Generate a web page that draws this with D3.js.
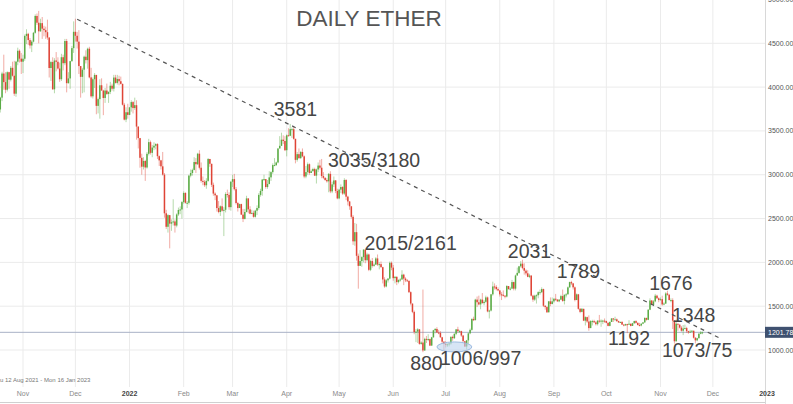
<!DOCTYPE html>
<html><head><meta charset="utf-8">
<script src="https://cdn.jsdelivr.net/npm/d3@7"></script>
<style>html,body{margin:0;padding:0;background:#fff;overflow:hidden}</style>
</head><body><svg id="c" width="793" height="404"></svg>
<script>
// ---- data (daily ETH candles, 19 Oct 2021 .. 25 Nov 2022) ----
const startDate = "2021-10-19";
const firstOpen = 3745;
const closes = [
3880,4155,4057,3970,4170,4085,4220,4130,3925,4290,4415,4325,4290,
4324,4584,4608,4537,4475,4519,4620,4812,4735,4637,4730,4667,4650,4627,4566,4218,4286,3975,4304,4289,4212,4090,4341,4273,4526,4045,4099,4296,4445,4631,
4586,4519,4240,4117,4199,4347,4308,4438,4111,3895,4090,4139,3786,3863,4021,3961,3876,3961,3922,3946,4016,3982,4109,4048,4093,4067,4037,3799,3629,3713,3683,
3769,3829,3761,3794,3550,3418,3193,3092,3157,3083,3239,3372,3250,3310,3331,3350,3212,3164,3096,3001,2560,2406,2539,2442,2458,2467,2420,2547,2598,2604,2688,
2792,2680,2680,2990,3020,3055,3145,3120,3240,3080,2930,2920,2880,2930,3180,3125,2885,2785,2765,2620,2575,2640,2590,2600,2780,2770,2630,2920,
2950,2835,2677,2620,2665,2545,2496,2575,2730,2605,2555,2565,2520,2590,2620,2770,2815,2945,2950,2860,2895,2970,3030,3110,3110,3140,3300,3330,3400,3385,3280,
3450,3445,3520,3520,3410,3170,3235,3190,3260,3210,2980,3030,3120,3020,3040,3065,2990,3060,3105,3080,2985,2965,2940,2925,3010,2810,2890,2935,2815,2730,
2830,2860,2785,2940,2750,2695,2640,2520,2240,2345,2075,1960,2015,2060,2145,2025,2090,1915,2015,1960,1975,2045,1975,1980,1945,1805,1725,1795,1815,1995,1940,
1820,1835,1775,1800,1805,1860,1815,1795,1790,1660,1530,1435,1205,1210,1235,1070,1085,995,1127,1125,1125,1050,1145,1225,1240,1200,1195,1145,1095,1070,
1060,1065,1075,1150,1135,1185,1235,1215,1215,1165,1100,1040,1110,1190,1230,1355,1340,1575,1545,1520,1575,1535,1550,1600,1440,1450,1635,1725,1720,1695,1680,
1635,1630,1620,1610,1730,1695,1700,1775,1700,1850,1880,1955,1985,1935,1905,1875,1835,1850,1620,1575,1620,1625,1660,1660,1695,1505,1490,1430,1555,1525,1555,
1585,1575,1555,1575,1615,1560,1630,1635,1715,1775,1760,1715,1570,1635,1470,1435,1470,1335,1375,1325,1250,1330,1330,1315,1295,1335,1330,1335,1335,1330,
1310,1275,1320,1360,1350,1350,1330,1315,1320,1290,1280,1295,1290,1300,1275,1305,1330,1310,1285,1280,1300,1315,1365,1345,1460,1565,1515,1555,1620,1590,1570,
1580,1520,1530,1645,1630,1570,1570,1335,1100,1300,1290,1255,1220,1245,1250,1215,1200,1210,1220,1140,1110,1135,1185,1200,1202];
const highs = [
3890,4175,4370,4170,4180,4175,4240,4290,4300,4300,4450,4430,4390,
4370,4600,4660,4620,4560,4535,4630,4830,4840,4870,4780,4800,4700,4690,4770,4570,4300,4340,4330,4400,4340,4280,4380,4370,4550,4550,4170,4300,4470,4750,
4780,4630,4650,4240,4220,4360,4420,4450,4460,4220,4110,4160,4140,3880,4090,4100,3970,3990,4040,3950,4060,4040,4140,4140,4140,4130,4120,4040,3820,3770,3810,
3770,3850,3840,3880,3850,3550,3420,3240,3200,3170,3260,3410,3390,3340,3370,3360,3360,3220,3170,3260,3020,2600,2550,2530,2490,2720,2490,2560,2625,2640,2700,
2810,2800,2700,3000,3060,3070,3200,3190,3250,3280,3140,2980,2940,2960,3190,3170,3120,2910,2800,2770,2700,2650,2730,2630,2800,2830,2800,2930,
3000,3010,2860,2690,2670,2670,2610,2610,2760,2730,2640,2600,2590,2600,2650,2790,2840,2950,3000,2950,2940,3040,3040,3130,3190,3150,3300,3440,3480,3450,3440,
3460,3530,3580,3540,3550,3410,3260,3300,3270,3300,3220,3100,3140,3130,3060,3080,3080,3070,3140,3170,3180,3030,2970,2960,3020,3040,2920,2980,2940,2840,
2840,2890,2870,2960,2950,2760,2700,2640,2540,2450,2440,2100,2140,2070,2150,2140,2110,2100,2030,2050,1990,2060,2090,2000,2010,1950,1830,1810,1820,2010,2010,
1970,1845,1840,1805,1820,1910,1870,1830,1810,1790,1670,1530,1450,1240,1250,1240,1100,1690,1140,1160,1180,1130,1150,1230,1250,1260,1230,1215,1150,1100,
1100,1075,1080,1155,1165,1190,1240,1265,1230,1220,1170,1100,1115,1200,1245,1360,1380,1585,1610,1620,1585,1650,1570,1620,1610,1460,1640,1780,1760,1740,1715,
1680,1660,1680,1625,1740,1730,1720,1800,1780,1860,1940,1960,2015,2030,1990,1920,1910,1870,1850,1630,1630,1635,1670,1690,1715,1700,1510,1500,1560,1600,1600,
1590,1640,1580,1580,1630,1690,1635,1650,1725,1780,1790,1765,1725,1645,1640,1480,1480,1470,1385,1380,1395,1340,1345,1345,1330,1340,1400,1350,1345,1360,
1335,1315,1325,1365,1365,1380,1360,1335,1325,1330,1295,1300,1300,1340,1300,1310,1335,1340,1315,1310,1305,1320,1375,1370,1465,1590,1570,1570,1640,1630,1600,
1600,1620,1545,1660,1676,1640,1590,1590,1340,1348,1300,1290,1275,1285,1290,1265,1220,1230,1225,1220,1145,1140,1195,1215,1210];
const lows = [
3710,3840,3970,3930,3950,3980,4065,4120,3900,3890,4250,4280,4150,
4160,4300,4490,4480,4440,4400,4510,4610,4710,4500,4630,4550,4580,4550,4540,4110,4070,3970,3930,4180,4200,4060,4070,4190,4250,3940,4040,3980,4290,4390,
4520,4440,4150,3880,3930,3940,4270,4210,4100,3880,3870,3990,3690,3700,3640,3960,3680,3820,3910,3820,3920,3960,3950,4040,4030,4020,4030,3790,3620,3600,3640,
3680,3720,3700,3740,3400,3300,3080,3000,3060,2930,3070,3220,3230,3200,3280,3290,3180,3100,3060,2990,2510,2380,2340,2160,2360,2420,2340,2400,2530,2550,2500,
2670,2670,2620,2660,2970,2990,3050,3020,3110,3060,2910,2880,2860,2840,2920,3090,2860,2760,2710,2580,2560,2530,2580,2300,2570,2740,2600,2590,
2860,2820,2660,2580,2620,2540,2460,2490,2570,2560,2550,2550,2510,2510,2540,2600,2750,2760,2930,2840,2840,2890,2930,3010,3100,3100,3130,3300,3330,3350,3270,
3210,3440,3440,3420,3400,3130,3150,3180,3180,3200,2960,2960,3000,3000,3020,3040,2985,2900,3030,3060,2960,2950,2930,2910,2800,2790,2790,2860,2790,2720,
2720,2790,2770,2770,2710,2650,2600,2500,2200,2190,2020,1700,1960,1950,2000,1990,2010,1900,1900,1940,1950,1970,1960,1920,1940,1760,1710,1715,1770,1805,1910,
1790,1760,1740,1760,1780,1800,1740,1775,1780,1650,1510,1420,1180,1090,1080,1060,1060,975,990,1080,1100,1045,1050,1140,1190,1195,1180,1140,1070,1000,
1030,1035,1040,1060,1105,1125,1170,1200,1200,1150,1095,1035,1005,1070,1180,1220,1330,1340,1490,1510,1465,1530,1510,1540,1430,1360,1440,1620,1690,1680,1670,
1610,1570,1610,1590,1600,1690,1680,1700,1680,1680,1850,1870,1940,1920,1860,1850,1830,1820,1610,1550,1560,1530,1590,1630,1650,1490,1460,1425,1430,1500,1520,
1540,1560,1550,1545,1570,1550,1520,1600,1635,1710,1740,1690,1555,1570,1460,1420,1430,1330,1280,1310,1220,1250,1280,1310,1280,1280,1310,1265,1295,1310,
1305,1270,1270,1320,1320,1345,1320,1310,1310,1285,1270,1280,1192,1285,1270,1275,1300,1300,1280,1270,1270,1295,1310,1335,1340,1455,1510,1500,1545,1585,1545,
1565,1505,1510,1525,1620,1565,1545,1240,1073,1095,1220,1245,1210,1170,1240,1195,1185,1195,1200,1130,1075,1100,1130,1180,1180];

const priceTicks = [1000,1500,2000,2500,3000,3500,4000,4500,5000];
const monthTicks = ["2021-11-01","2021-12-01","2022-01-01","2022-02-01","2022-03-01","2022-04-01","2022-05-01","2022-06-01","2022-07-01","2022-08-01","2022-09-01","2022-10-01","2022-11-01","2022-12-01","2023-01-01"];
const monthLabels = ["Nov","Dec","2022","Feb","Mar","Apr","May","Jun","Jul","Aug","Sep","Oct","Nov","Dec","2023"];
const lastPrice = 1201.78;
const title = "DAILY ETHER";
const rangeText = "u 12 Aug 2021 - Mon 16 Jan 2023";
const trendStart = {date:"2021-12-02", price:4775};
const trendEnd = {date:"2022-12-06", price:1125};
const annotations = [
 {t:"3581", date:"2022-04-06", price:3671},
 {t:"3035/3180", date:"2022-05-21", price:3089},
 {t:"2015/2161", date:"2022-06-11", price:2141},
 {t:"2031", date:"2022-08-18", price:2050},
 {t:"1789", date:"2022-09-15", price:1822},
 {t:"1676", date:"2022-11-07", price:1685},
 {t:"1348", date:"2022-11-20", price:1320},
 {t:"1192", date:"2022-10-14", price:1057},
 {t:"1073/75", date:"2022-11-22", price:920},
 {t:"880", date:"2022-06-20", price:772},
 {t:"1006/997", date:"2022-07-21", price:829}
];
const ellipse = {from:"2022-06-26", to:"2022-07-16", price:1035};

// ---- drawing ----
const W = 793, H = 404, axisX = 765;
const parse = d3.utcParse("%Y-%m-%d");
const x = d3.scaleUtc().domain([parse("2021-11-01"), parse("2023-01-01")]).range([23, 767]);
const y = d3.scaleLinear().domain([1000, 4500]).range([350, 43.3]);
const svg = d3.select("#c");
const font = "'Liberation Sans', Arial, sans-serif";

svg.append("defs").append("clipPath").attr("id","plot")
  .append("rect").attr("x",0).attr("y",0).attr("width",axisX).attr("height",H);

// grid
const g = svg.append("g").attr("clip-path","url(#plot)");
g.selectAll(".hg").data(priceTicks).join("line")
  .attr("x1",0).attr("x2",axisX).attr("y1",d=>y(d)).attr("y2",d=>y(d))
  .attr("stroke","#ebebeb").attr("stroke-width",1);
g.selectAll(".vg").data(monthTicks).join("line")
  .attr("x1",d=>x(parse(d))).attr("x2",d=>x(parse(d))).attr("y1",0).attr("y2",387)
  .attr("stroke","#ebebeb").attr("stroke-width",1);

// last price line
g.append("line").attr("x1",0).attr("x2",axisX).attr("y1",y(lastPrice)).attr("y2",y(lastPrice))
  .attr("stroke","#a9b1c6").attr("stroke-width",1);

// candles
const t0 = parse(startDate);
const candles = closes.map((c,i)=>{
  const o = i===0 ? firstOpen : closes[i-1];
  return {date:d3.utcDay.offset(t0,i), o, c, h:Math.max(highs[i],o,c), l:Math.min(lows[i],o,c)};
});
const up = "#5aab45", dn = "#df4436";
const cg = g.append("g");
cg.selectAll(".w").data(candles).join("line")
  .attr("x1",d=>x(d.date)).attr("x2",d=>x(d.date))
  .attr("y1",d=>y(d.h)).attr("y2",d=>y(d.l))
  .attr("stroke",d=>d.c>=d.o?up:dn).attr("stroke-opacity",0.45).attr("stroke-width",1);
cg.selectAll(".b").data(candles).join("rect")
  .attr("x",d=>x(d.date)-0.75).attr("width",1.5)
  .attr("y",d=>y(Math.max(d.o,d.c)))
  .attr("height",d=>Math.max(1,Math.abs(y(d.o)-y(d.c))))
  .attr("fill",d=>d.c>=d.o?up:dn);

// ellipse around lows
const ex1 = x(parse(ellipse.from)), ex2 = x(parse(ellipse.to));
g.append("ellipse").attr("cx",(ex1+ex2)/2).attr("cy",y(ellipse.price))
  .attr("rx",(ex2-ex1)/2).attr("ry",5)
  .attr("fill","#bcd3ee").attr("fill-opacity",0.6).attr("stroke","#9dbbe0").attr("stroke-width",1);

// trend line
g.append("line")
  .attr("x1",x(parse(trendStart.date))).attr("y1",y(trendStart.price))
  .attr("x2",x(parse(trendEnd.date))).attr("y2",y(trendEnd.price))
  .attr("stroke","#555").attr("stroke-width",1.2).attr("stroke-dasharray","4,4");

// annotations
svg.selectAll(".ann").data(annotations).join("text")
  .attr("x",d=>x(parse(d.date))).attr("y",d=>y(d.price))
  .attr("text-anchor","middle").attr("font-family",font).attr("font-size",19.5)
  .attr("fill","#454545").text(d=>d.t);

// title
svg.append("text").attr("x",369).attr("y",26).attr("text-anchor","middle")
  .attr("font-family",font).attr("font-size",22.5).attr("fill","#555").text(title);

// right axis
svg.append("line").attr("x1",axisX+0.5).attr("x2",axisX+0.5).attr("y1",0).attr("y2",H)
  .attr("stroke","#d8d8d8");
svg.selectAll(".pt").data(priceTicks).join("text")
  .attr("x",axisX+3).attr("y",d=>y(d)+2.5)
  .attr("font-family",font).attr("font-size",7).attr("fill","#555")
  .text(d=>d3.format(".2f")(d));

// price tag
svg.append("rect").attr("x",axisX).attr("y",y(lastPrice)-5.5).attr("width",28).attr("height",11)
  .attr("fill","#3f5170");
svg.append("text").attr("x",axisX+3).attr("y",y(lastPrice)+2.5)
  .attr("font-family",font).attr("font-size",7).attr("fill","#fff").text(lastPrice.toFixed(2));

// month labels
svg.selectAll(".ml").data(monthTicks).join("text")
  .attr("x",d=>x(parse(d))).attr("y",396).attr("text-anchor","middle")
  .attr("font-family",font).attr("font-size",7)
  .attr("font-weight",(d,i)=>/^\d/.test(monthLabels[i])?"bold":"normal")
  .attr("fill",(d,i)=>/^\d/.test(monthLabels[i])?"#444":"#8a8a8a")
  .text((d,i)=>monthLabels[i]);

// bottom line
svg.append("line").attr("x1",0).attr("x2",axisX).attr("y1",402.5).attr("y2",402.5).attr("stroke","#d0d0d0");

// range text
svg.append("text").attr("x",0).attr("y",382).attr("font-family",font).attr("font-size",6)
  .attr("fill","#777").text(rangeText);
</script></body></html>
